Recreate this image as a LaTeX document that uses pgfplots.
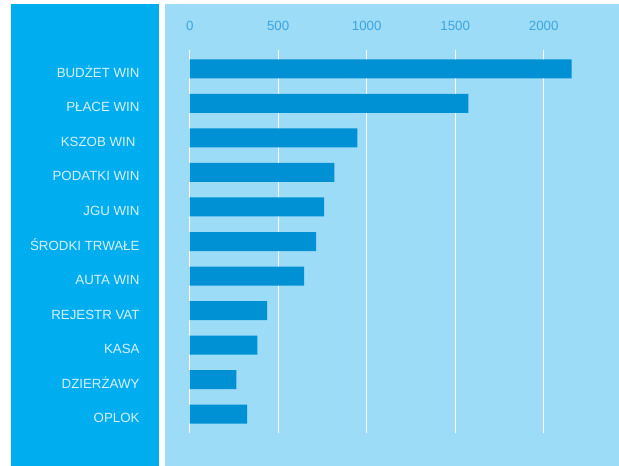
\documentclass[border=0pt]{standalone}
\usepackage{pgfplots}
\pgfplotsset{compat=1.18}
\usepackage{fontspec}
\setmainfont{Liberation Sans}
\definecolor{leftpanel}{HTML}{00AEEF}
\definecolor{rightpanel}{HTML}{9DDCF7}
\definecolor{barblue}{HTML}{0091D5}
\definecolor{ticknum}{HTML}{3BA4E0}
\definecolor{labtxt}{HTML}{D6F0FC}
\pgfplotstableread{
idx val
0 2158
1 1574
2 947
3 817
4 760
5 714
6 647
7 438
8 382
9 263
10 324
}\datatable
\begin{document}
\begin{tikzpicture}
\useasboundingbox (0pt,0pt) rectangle (619pt,466pt);
\fill[white] (0pt,0pt) rectangle (619pt,466pt);
\fill[leftpanel] (11pt,0pt) rectangle (159pt,462pt);
\fill[rightpanel] (165pt,0pt) rectangle (619pt,462pt);
\begin{axis}[
  at={(189.7pt,416pt)}, anchor=north west,
  scale only axis,
  width=389.4pt, height=383pt,
  xmin=0, xmax=2200,
  ymin=-0.55, ymax=10.55,
  y dir=reverse,
  axis line style={draw=none},
  tick style={draw=none},
  major tick length=0pt,
  xtick={0,500,1000,1500,2000},
  xticklabel pos=upper,
  xmajorgrids,
  major grid style={white, line width=1.1pt},
  ytick={0,...,10},
  yticklabels={BUDŻET WIN, PŁACE WIN, KSZOB WIN\kern4pt, PODATKI WIN, JGU WIN, ŚRODKI TRWAŁE, AUTA WIN, REJESTR VAT, KASA, DZIERŻAWY, OPLOK},
  yticklabel style={anchor=base east, inner sep=0pt, xshift=-50pt, yshift=-8.5pt, font=\fontsize{13.3}{15}\selectfont, text=labtxt},
  xticklabel style={anchor=base, inner sep=0pt, yshift=19.5pt, font=\fontsize{13.3}{15}\selectfont, text=ticknum},
  /pgf/number format/assume math mode=true,
  /pgf/number format/1000 sep={},
  xbar, bar width=19pt,
]
\addplot[fill=barblue, draw=none] table[x=val, y=idx] {\datatable};
\end{axis}
\end{tikzpicture}
\end{document}
